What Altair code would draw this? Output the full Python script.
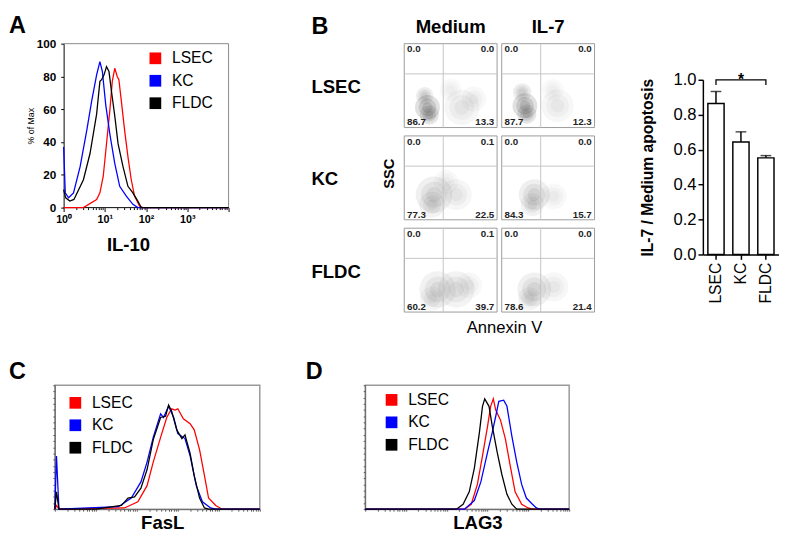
import math
import altair as alt
import pandas as pd

FONT = "Liberation Sans"
cells = ["LSEC", "KC", "FLDC"]
cell_colors = ["#ff0000", "#0000ff", "#000000"]

# ---------------- Panel A : IL-10 (x in log10 decades, y = % of Max)
a_lsec_x = [0.0, 0.48, 0.80, 0.88, 0.96, 1.04, 1.12, 1.18, 1.24, 1.30, 1.34, 1.40, 1.48, 1.56, 1.64, 1.72, 1.84, 1.92, 4.0]
a_lsec_y = [0, 0, 5, 9, 19, 39, 59, 77, 85, 80, 78, 65, 47, 31, 17, 7, 1, 0, 0]
a_kc_x = [0.0, 0.04, 0.12, 0.24, 0.40, 0.56, 0.68, 0.80, 0.88, 0.94, 1.02, 1.12, 1.24, 1.36, 1.52, 1.68, 1.80, 4.0]
a_kc_y = [37, 9, 6, 9, 25, 47, 65, 81, 89, 83, 63, 45, 27, 13, 7, 2, 0, 0]
a_fldc_x = [0.0, 0.05, 0.15, 0.25, 0.48, 0.64, 0.80, 0.88, 0.92, 0.98, 1.04, 1.10, 1.16, 1.24, 1.32, 1.44, 1.56, 1.68, 1.80, 1.88, 4.0]
a_fldc_y = [11, 6, 4, 5, 17, 33, 57, 77, 78, 81, 86, 83, 71, 56, 39, 25, 13, 9, 4, 0, 0]

# ---------------- Panel C : FasL (x in decades 0..5)
c_lsec_x = [0.0, 0.04, 0.10, 1.70, 2.025, 2.25, 2.40, 2.58, 2.73, 2.85, 2.935, 3.0, 3.135, 3.30, 3.40, 3.53, 3.65, 3.75, 3.925, 4.085, 5.0]
c_lsec_y = [0, 3, 0, 1, 6, 19, 38, 58, 74, 81, 80, 81, 73, 69, 64, 48, 27, 9, 3, 0, 0]
c_kc_x = [0.0, 0.04, 0.10, 1.55, 1.865, 2.10, 2.25, 2.40, 2.58, 2.65, 2.775, 2.90, 3.0, 3.175, 3.30, 3.45, 3.60, 3.80, 3.925, 5.0]
c_kc_y = [0, 43, 0, 2, 9, 22, 38, 58, 77, 74, 83, 74, 61, 57, 43, 19, 6, 1, 0, 0]
c_fldc_x = [0.0, 0.04, 0.10, 1.0, 1.625, 1.785, 1.945, 2.10, 2.25, 2.40, 2.58, 2.70, 2.775, 2.85, 2.975, 3.10, 3.175, 3.30, 3.40, 3.53, 3.65, 3.75, 5.0]
c_fldc_y = [0, 14, 0, 0, 3, 9, 10, 17, 32, 56, 74, 75, 84, 79, 64, 57, 60, 45, 27, 9, 1, 0, 0]

# ---------------- Panel D : LAG3 (x in decades 0..5)
d_lsec_x = [0.0, 2.435, 2.60, 2.75, 2.875, 3.0, 3.075, 3.14, 3.20, 3.315, 3.435, 3.55, 3.675, 3.835, 3.995, 4.10, 5.0]
d_lsec_y = [0, 0, 4, 20, 43, 67, 83, 89, 80, 72, 57, 36, 14, 4, 1, 0, 0]
d_kc_x = [0.0, 2.435, 2.675, 2.835, 3.0, 3.115, 3.20, 3.275, 3.395, 3.475, 3.595, 3.715, 3.835, 3.95, 4.10, 4.195, 4.275, 5.0]
d_kc_y = [0, 0, 7, 22, 46, 62, 75, 87, 88, 83, 59, 38, 20, 9, 4, 1, 0, 0]
d_fldc_x = [0.0, 2.235, 2.40, 2.55, 2.675, 2.80, 2.875, 2.93, 3.035, 3.115, 3.235, 3.35, 3.475, 3.595, 3.715, 5.0]
d_fldc_y = [0, 0, 4, 14, 33, 62, 83, 89, 83, 67, 46, 28, 12, 4, 0, 0]

# ---------------- Panel B : flow plots
b_conds = ["Medium", "IL-7"]
b_row = ["LSEC", "LSEC", "KC", "KC", "FLDC", "FLDC"]
b_cond = ["Medium", "IL-7", "Medium", "IL-7", "Medium", "IL-7"]
b_ul = ["0.0", "0.0", "0.0", "0.0", "0.0", "0.0"]
b_ur = ["0.0", "0.0", "0.1", "0.0", "0.1", "0.0"]
b_ll = ["86.7", "87.7", "77.3", "84.3", "60.2", "78.6"]
b_lr = ["13.3", "12.3", "22.5", "15.7", "39.7", "21.4"]
gate_annexin = 0.42
gate_ssc = 0.64
# density blobs of the dot clouds: panel index, annexin, ssc, area, darkness
cloud_panel = [0, 0, 0, 0, 0, 0,
               1, 1, 1, 1, 1,
               2, 2, 2, 2,
               3, 3, 3,
               4, 4, 4, 4,
               5, 5, 5]
cloud_x = [0.25, 0.27, 0.22, 0.62, 0.75, 0.50,
           0.25, 0.27, 0.22, 0.60, 0.55,
           0.32, 0.30, 0.56, 0.45,
           0.35, 0.33, 0.56,
           0.36, 0.56, 0.30, 0.70,
           0.35, 0.30, 0.56]
cloud_y = [0.24, 0.15, 0.38, 0.24, 0.34, 0.45,
           0.26, 0.16, 0.42, 0.26, 0.45,
           0.30, 0.18, 0.30, 0.45,
           0.30, 0.18, 0.28,
           0.27, 0.27, 0.16, 0.32,
           0.27, 0.16, 0.30]
cloud_s = [650, 380, 320, 1300, 650, 500,
           650, 380, 350, 1100, 500,
           1400, 700, 1000, 600,
           1000, 550, 700,
           1400, 1400, 600, 700,
           1200, 550, 900]
cloud_d = [1.0, 0.9, 0.6, 0.3, 0.25, 0.2,
           1.0, 0.9, 0.6, 0.28, 0.2,
           0.5, 0.4, 0.3, 0.22,
           0.55, 0.45, 0.24,
           0.45, 0.4, 0.35, 0.22,
           0.5, 0.4, 0.28]
blob_rings = [1.0, 0.5, 0.18]

# ---------------- Bar chart
bar_mean = [0.864, 0.644, 0.553]
bar_err = [0.069, 0.058, 0.013]

color_scale = alt.Scale(domain=cells, range=cell_colors)


def long_df(series):
    rows = []
    for cell, xs, ys in series:
        for i, (x, y) in enumerate(zip(xs, ys)):
            rows.append({"cell": cell, "x": x, "y": y, "i": i})
    return pd.DataFrame(rows)


def legend_at(lx, ly):
    return alt.Legend(title=None, orient="none", legendX=lx, legendY=ly,
                      symbolType="square", symbolSize=36, symbolStrokeWidth=6,
                      symbolOpacity=1, labelFontSize=16, labelFont=FONT,
                      labelColor="black", rowPadding=-9, labelOffset=9)


def letter(t, dx, dy):
    return alt.TitleParams(t, anchor="start", frame="group", dx=dx, dy=dy,
                           fontSize=24, fontWeight="bold", font=FONT, color="black")


major_test = "abs(datum.value - round(datum.value)) < 0.001"
dec_ticks = [d + math.log10(k) for d in range(0, 4) for k in range(1, 10)] + [4.0]
dec_ticks5 = [d + math.log10(k) for d in range(0, 5) for k in range(1, 10)] + [5.0]

# ---------- A  (plot box starts 9 px left of the y axis so that A and C share an origin)
A_DEC_PX = 42.25
A_SHIFT = 9
a_xs = alt.Scale(domain=[-A_SHIFT / A_DEC_PX, 4], nice=False, zero=False)
a_ys = alt.Scale(domain=[0, 100], nice=False)
a_xaxis = alt.Axis(values=dec_ticks, title="IL-10", titleFontSize=19, titleFontWeight="bold",
                   titleX=75, titlePadding=12, domain=False,
                   labelExpr="datum.value < 3.5 && " + major_test + " ? '10' + ['\u2070','\u00b9','\u00b2','\u00b3'][round(datum.value)] : ''",
                   labelFontSize=11, labelFontWeight="bold", labelPadding=2,
                   tickSize={"condition": {"test": major_test, "value": 4}, "value": 2},
                   labelFlush=False, labelOverlap=False)
a_yaxis = alt.Axis(values=[0, 20, 40, 60, 80, 100], title="% of Max", titleFontSize=9,
                   titleFontWeight="normal", labelFontSize=12, labelFontWeight="bold",
                   tickSize=3, labelPadding=5, titlePadding=1, labelOverlap=False,
                   labelFlush=False, offset=-A_SHIFT)


def ax_(f):
    return alt.X(f, type="quantitative", scale=a_xs, axis=a_xaxis, title="IL-10")


def ay_(f):
    return alt.Y(f, type="quantitative", scale=a_ys, axis=a_yaxis, title="% of Max")


a_df = long_df([("LSEC", a_lsec_x, a_lsec_y), ("KC", a_kc_x, a_kc_y), ("FLDC", a_fldc_x, a_fldc_y)])
a_lines = alt.Chart(a_df).mark_line(strokeWidth=1.3).encode(
    x=ax_("x"), y=ay_("y"),
    color=alt.Color("cell:N", scale=color_scale, legend=legend_at(95, 7)),
    order="i:Q",
)
a_gray = pd.DataFrame({"x": [0, 4], "x2": [4, 4], "y": [100, 0], "y2": [100, 100]})
a_base = pd.DataFrame({"x": [0], "x2": [4], "y": [0], "y2": [0]})
a_frame = alt.Chart(a_gray).mark_rule(strokeWidth=1, color="#888888").encode(
    x=ax_("x"), x2="x2", y=ay_("y"), y2="y2")
a_axisline = alt.Chart(a_base).mark_rule(strokeWidth=1, color="black").encode(
    x=ax_("x"), x2="x2", y=ay_("y"))
A = alt.layer(a_frame, a_axisline, a_lines).properties(width=169 + A_SHIFT, height=168,
                                                       title=letter("A", -47, 4))

# ---------- B
PX, PY = 1.05, 1.1
panels = pd.DataFrame({"row": [cells.index(r) for r in b_row],
                       "col": [b_conds.index(c) for c in b_cond],
                       "ul": b_ul, "ur": b_ur, "ll": b_ll, "lr": b_lr})
panels["x0"] = panels["col"] * PX
panels["x1"] = panels["x0"] + 1
panels["y0"] = panels["row"] * PY
panels["y1"] = panels["y0"] + 1
panels["gx"] = panels["x0"] + gate_annexin
panels["gy"] = panels["y0"] + 1 - gate_ssc

rows = []
for p, ax, ss, s, d in zip(cloud_panel, cloud_x, cloud_y, cloud_s, cloud_d):
    for k in blob_rings:
        rows.append({"gx": panels.loc[p, "x0"] + ax, "gy": panels.loc[p, "y0"] + 1 - ss,
                     "s": s * k, "o": d * 0.16})
cl = pd.DataFrame(rows)

BXS = alt.Scale(domain=[0, 2 * PX - 0.05], nice=False, zero=False)
BYS = alt.Scale(domain=[0, 3 * PY - 0.1], nice=False, zero=False, reverse=True)


def bx(f):
    return alt.X(f, type="quantitative", scale=BXS, axis=None)


def by(f):
    return alt.Y(f, type="quantitative", scale=BYS, axis=None)


frames = alt.Chart(panels).mark_rect(fill="white", stroke="#9a9a9a", strokeWidth=1).encode(
    x=bx("x0"), x2="x1", y=by("y0"), y2="y1")
clouds = alt.Chart(cl).mark_circle(color="#444444").encode(
    x=bx("gx"), y=by("gy"), size=alt.Size("s:Q", scale=None), opacity=alt.Opacity("o:Q", scale=None))
gv = alt.Chart(panels).mark_rule(color="#c4c4c4", strokeWidth=1).encode(x=bx("gx"), y=by("y0"), y2="y1")
gh = alt.Chart(panels).mark_rule(color="#c4c4c4", strokeWidth=1).encode(x=bx("x0"), x2="x1", y=by("gy"))
panels["xl"] = panels["x0"] + 0.03
panels["xr"] = panels["x1"] - 0.03
panels["yt"] = panels["y0"] + 0.01
panels["yb"] = panels["y1"] - 0.025
numstyle = dict(font=FONT, fontSize=10, fontWeight="bold", color="#222222")
n_ul = alt.Chart(panels).mark_text(align="left", baseline="top", **numstyle).encode(x=bx("xl"), y=by("yt"), text="ul:N")
n_ur = alt.Chart(panels).mark_text(align="right", baseline="top", **numstyle).encode(x=bx("xr"), y=by("yt"), text="ur:N")
n_ll = alt.Chart(panels).mark_text(align="left", baseline="alphabetic", **numstyle).encode(x=bx("xl"), y=by("yb"), text="ll:N")
n_lr = alt.Chart(panels).mark_text(align="right", baseline="alphabetic", **numstyle).encode(x=bx("xr"), y=by("yb"), text="lr:N")

hdr = pd.DataFrame({"t": b_conds, "x": [c * PX + 0.5 for c in range(2)], "y": [-0.2, -0.2]})
rlab = pd.DataFrame({"t": cells, "x": [-1.0] * 3, "y": [r * PY + 0.52 for r in range(3)]})
t_hdr = alt.Chart(hdr).mark_text(font=FONT, fontSize=19, fontWeight="bold", baseline="middle").encode(
    x=bx("x"), y=by("y"), text="t:N")
t_rows = alt.Chart(rlab).mark_text(font=FONT, fontSize=19, fontWeight="bold", align="left", baseline="middle").encode(
    x=bx("x"), y=by("y"), text="t:N")
ssc = alt.Chart(pd.DataFrame({"t": ["SSC"], "x": [-0.16], "y": [1.55]})).mark_text(
    font=FONT, fontSize=15, fontWeight="bold", angle=270, baseline="middle").encode(x=bx("x"), y=by("y"), text="t:N")
annx = alt.Chart(pd.DataFrame({"t": ["Annexin V"], "x": [1.08], "y": [3.39]})).mark_text(
    font=FONT, fontSize=17, baseline="middle").encode(x=bx("x"), y=by("y"), text="t:N")

B = alt.layer(frames, clouds, gv, gh, n_ul, n_ur, n_ll, n_lr, t_hdr, t_rows, ssc, annx).properties(
    width=195, height=275, title=letter("B", -95, 25))

# ---------- Bar chart
bar_df = pd.DataFrame({"cell": cells, "mean": bar_mean, "err": bar_err})
bar_df["top"] = bar_df["mean"] + bar_df["err"]
bar_xaxis = alt.Axis(title=None, labelAngle=270, labelFontSize=16, labelFont=FONT,
                     labelAlign="right", labelBaseline="middle", tickSize=5, tickWidth=1.5,
                     domainWidth=1.5, labelPadding=3)
bar_yaxis = alt.Axis(values=[0, 0.2, 0.4, 0.6, 0.8, 1.0], format=".1f",
                     title="IL-7 / Medium apoptosis", titleFontSize=16, titleFontWeight="bold",
                     labelFontSize=17, tickSize=5, tickWidth=1.5, domainWidth=1.5,
                     labelPadding=2, titlePadding=18, labelOverlap=False, labelFlush=False)
xbs = alt.Scale(paddingInner=0.35, paddingOuter=0.2)
yq = alt.Scale(domain=[0, 1], nice=False)


def xb():
    return alt.X("cell:N", sort=cells, scale=xbs, axis=bar_xaxis)


def yb(f):
    return alt.Y(f, type="quantitative", scale=yq, axis=bar_yaxis, title="IL-7 / Medium apoptosis")


bars = alt.Chart(bar_df).mark_bar(fill="white", stroke="black", strokeWidth=1.5).encode(x=xb(), y=yb("mean"))
errs = alt.Chart(bar_df).mark_rule(color="black", strokeWidth=1.5).encode(x=xb(), y=yb("mean"), y2="top:Q")
caps = alt.Chart(bar_df).mark_tick(color="black", thickness=1.5, size=11).encode(x=xb(), y=yb("top"))
brk = pd.DataFrame({"cell": ["LSEC", "LSEC", "FLDC", "FLDC"], "v": [0.97, 1.0, 1.0, 0.97], "o": [0, 1, 2, 3]})
bracket = alt.Chart(brk).mark_line(color="black", strokeWidth=1.3).encode(x=xb(), y=yb("v"), order="o:Q")
star = alt.Chart(pd.DataFrame({"cell": ["KC"], "v": [1.0], "t": ["*"]})).mark_text(
    font=FONT, fontSize=16, fontWeight="bold", baseline="alphabetic", dy=5).encode(
    x=xb(), y=yb("v"), text="t:N")
BAR = alt.layer(bars, errs, caps, bracket, star).properties(width=78, height=179)

spacer = alt.Chart(pd.DataFrame({"v": [0]})).mark_point(size=0, opacity=0).encode(
    x=alt.X("v:Q", axis=None), y=alt.Y("v:Q", axis=None)).properties(width=78, height=28)
BARCOL = alt.vconcat(spacer, BAR, spacing=0)


# ---------- C and D
def hist(df, w, h, xtitle, lx, ly, t, tdx, tdy, titlex):
    return alt.Chart(df).mark_line(strokeWidth=1.3).encode(
        x=alt.X("x:Q", scale=alt.Scale(domain=[0, 5], nice=False, zero=False),
                axis=alt.Axis(values=dec_ticks5, labels=False, title=xtitle, titleFontSize=19,
                              titleFontWeight="bold", tickSize=2, tickColor="#555555",
                              domainColor="#666666", titlePadding=2, titleX=titlex)),
        y=alt.Y("y:Q", scale=alt.Scale(domain=[0, 100], nice=False),
                axis=alt.Axis(values=list(range(0, 101, 5)), labels=False, title=None, tickSize=2,
                              tickColor="#555555", domainColor="#666666")),
        color=alt.Color("cell:N", scale=color_scale, legend=legend_at(lx, ly)),
        order="i:Q",
    ).properties(width=w, height=h, title=letter(t, tdx, tdy),
                 view=alt.ViewBackground(stroke="#999999", strokeWidth=1.5))


c_df = long_df([("LSEC", c_lsec_x, c_lsec_y), ("KC", c_kc_x, c_kc_y), ("FLDC", c_fldc_x, c_fldc_y)])
d_df = long_df([("LSEC", d_lsec_x, d_lsec_y), ("KC", d_kc_x, d_kc_y), ("FLDC", d_fldc_x, d_fldc_y)])
C = hist(c_df, 210, 127, "FasL", 13, 10, "C", -47, 3, 110)
D = hist(d_df, 209, 127, "LAG3", 19, 7, "D", -61, 3, 115)

top = alt.hconcat(
    alt.hconcat(A, B, spacing=81).resolve_scale(color="independent"),
    BARCOL, spacing=45).resolve_scale(color="independent")
bottom = alt.hconcat(C, D, spacing=42).resolve_scale(color="independent")

chart = alt.vconcat(top, bottom, spacing=23).resolve_scale(color="independent").properties(
    padding={"left": 0, "top": 0, "right": 0, "bottom": 0}, background="white"
).configure_view(stroke=None).configure_axis(
    labelFont=FONT, titleFont=FONT, labelColor="black", titleColor="black",
    domainColor="black", tickColor="black", grid=False
).configure_title(font=FONT)

chart.save("out.html", embed_options={"renderer": "svg", "actions": False})
